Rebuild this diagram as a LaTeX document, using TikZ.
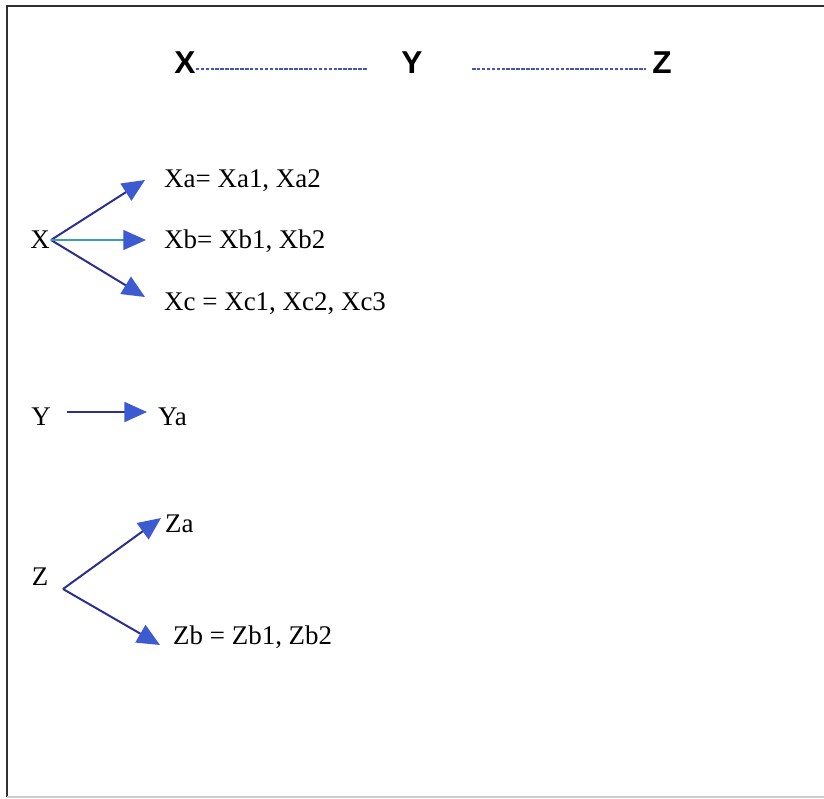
\documentclass[tikz,border=0pt]{standalone}
\usepackage{fontspec}
\setmainfont{Liberation Serif}
\newfontfamily\headfont{Liberation Sans}
\usepackage{xcolor}
\definecolor{TreeLine}{HTML}{2C2F8E}
\definecolor{TreeHead}{HTML}{3D5BD0}
\definecolor{TreeTeal}{HTML}{3A9FB3}
\definecolor{TreeDash}{HTML}{4654B8}
\definecolor{TreeFrame}{HTML}{303030}
\usetikzlibrary{arrows.meta,positioning}

\begin{document}
\begin{tikzpicture}[x=0.03cm,y=-0.03cm,
  lab/.style={font=\fontsize{23}{27}\selectfont,inner sep=0pt},
  headlab/.style={font=\headfont\bfseries\fontsize{27}{30}\selectfont,inner sep=0pt},
  branch/.style={TreeLine,line width=1.7pt,-{Triangle[length=0.68cm,width=0.6cm,color=TreeHead]}},
  dashline/.style={TreeDash,line width=1.2pt,dash pattern=on 3pt off 1.2pt}]
  \useasboundingbox (0,0) rectangle (824,798);
  % frame
  \draw[TreeFrame,line width=1.4pt] (830,6) -- (7,6) -- (7,797);
  \draw[gray!40,line width=1pt] (7,797) -- (830,797);
  % title row
  \node[headlab] (tX) at (185,63) {X};
  \node[headlab] (tY) at (412,63) {Y};
  \node[headlab] (tZ) at (662,63) {Z};
  \coordinate (dX) at (368,69);
  \coordinate (dZ) at (472,69);
  \draw[dashline] ([yshift=-0.18cm]tX.east) -- (dX);
  \draw[dashline,shorten >=0.18cm] (dZ) -- ([yshift=-0.18cm]tZ.west);
  % X branches
  \node[lab,anchor=base] (X) at (40,248) {X};
  \coordinate (Xo) at (51,240);
  \foreach \n/\y/\b/\txt in {a/180/187/{Xa= Xa1, Xa2},c/297/310/{Xc = Xc1, Xc2, Xc3}}{
    \coordinate (X\n) at (145,\y);
    \node[lab,anchor=base west] (tx\n) at (164,\b) {\txt};
    \draw[branch] (Xo) -- (X\n);
  }
  \coordinate (Xb) at (146,240);
  \node[lab,anchor=base west] (txb) at (164,248) {Xb= Xb1, Xb2};
  \draw[branch,TreeTeal,line width=1.1pt] (Xo) -- (Xb);
  % Y branch
  \node[lab,anchor=base] (Y) at (41,425) {Y};
  \node[lab,anchor=base west] (Ya) at (158,425) {Ya};
  \coordinate (Yo) at (67,412);
  \coordinate (Yt) at (147,412);
  \draw[branch] (Yo) -- (Yt);
  % Z branches
  \node[lab,anchor=base] (Z) at (40,585) {Z};
  \coordinate (Zo) at (63,589);
  \coordinate (Zat) at (161,518);
  \coordinate (Zbt) at (160,645);
  \node[lab,anchor=base west] (Za) at (165,532) {Za};
  \node[lab,anchor=base west] (Zb) at (173,644) {Zb = Zb1, Zb2};
  \draw[branch] (Zo) -- (Zat);
  \draw[branch] (Zo) -- (Zbt);
\end{tikzpicture}
\end{document}
